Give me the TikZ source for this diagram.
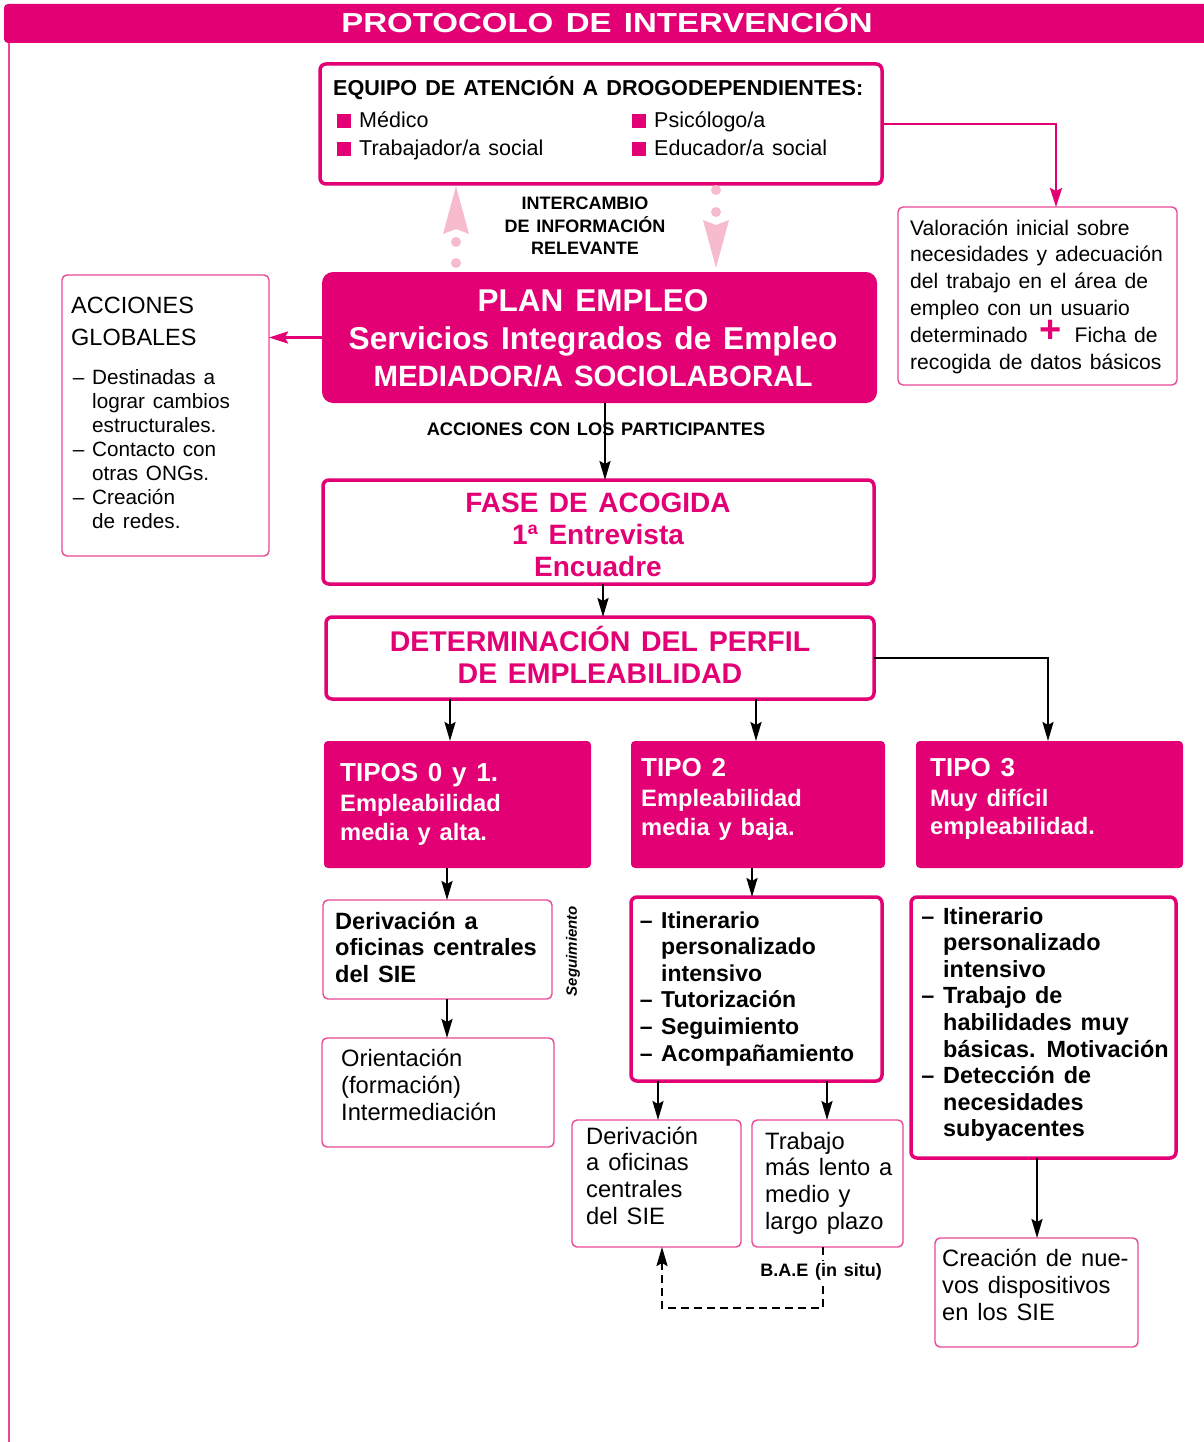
\documentclass[tikz,border=0pt]{standalone}
\usepackage{fontspec}
\setmainfont{Liberation Sans}[WordSpace=1.35]
\usepackage{graphicx}
\usetikzlibrary{arrows.meta}
\definecolor{mag}{RGB}{226,0,116}
\definecolor{pinkline}{RGB}{232,72,150}
\definecolor{lightpink}{RGB}{247,187,206}
\newcommand\fsz[2]{\fontsize{#1}{#2}\selectfont}
\newcommand\bul{\leavevmode\llap{\textcolor{mag}{\rule{14pt}{14pt}}\hspace{8pt}}}
\newcommand\itm{\leavevmode\llap{– }}
\newcommand\lft[2]{\parbox[t]{#1pt}{#2}}
\newcommand\ctr[2]{\parbox[t]{#1pt}{\centering #2}}
\tikzset{
 box/.style 2 args={anchor=north west, inner sep=0pt, outer sep=0pt, minimum width=#1pt, minimum height=#2pt},
 thinbox/.style={draw=pinkline, line width=1.4pt, rounded corners=5pt},
 thickbox/.style={draw=mag, line width=3.5pt, rounded corners=6pt},
 fillbox/.style={fill=mag, rounded corners=4pt},
 txt/.style={anchor=base west, inner sep=0pt},
 ctxt/.style={anchor=base, inner sep=0pt},
 blk/.style={draw=black, line width=2.4pt, -{Stealth[length=19pt,width=11pt,inset=3pt]}},
 magarr/.style={draw=mag, line width=2.4pt, -{Stealth[length=19pt,width=12pt,inset=3pt]}},
 dots/.style={draw=lightpink, line width=10pt, line cap=round, dash pattern=on 0pt off #1pt, -{Stealth[length=48pt,width=26pt,inset=5pt,line width=0pt]}},
}
\begin{document}
\begin{tikzpicture}[x=1pt,y=-1pt]
\useasboundingbox (0,0) rectangle (1203,1442);
% header
\node[fillbox, box={1210}{39}] (hdr) at (4,4) {};
\node[ctxt, text=white] (title) at (607,32.5) {\scalebox{1.2}[1]{\fsz{27.5}{27.5}\bfseries PROTOCOLO DE INTERVENCIÓN}};
\draw[pinkline, line width=2pt] (9,43) -- (9,1442);

% boxes
\node[thickbox, box={562}{120}] (equipo) at (320,64) {};
\node[thinbox, box={279}{178}] (valor) at (898,207) {};
\node[fillbox, rounded corners=11pt, box={555}{131}] (plan) at (322,272) {};
\node[thinbox, box={207}{281}] (acc) at (62,275) {};
\node[thickbox, box={551}{104}] (fase) at (323,480) {};
\node[thickbox, box={548}{82}] (det) at (326,617) {};
\node[fillbox, box={267}{127}] (t01) at (324,741) {};
\node[fillbox, box={254}{127}] (t2) at (631,741) {};
\node[fillbox, box={267}{127}] (t3) at (916,741) {};
\node[thinbox, box={229}{99}] (d1) at (323,900) {};
\node[thinbox, box={232}{109}] (o1) at (322,1038) {};
\node[thickbox, box={251}{184}] (l2) at (631,897) {};
\node[thinbox, box={169}{127}] (d2) at (572,1120) {};
\node[thinbox, box={151}{127}] (tr) at (752,1120) {};
\node[thickbox, box={265}{261}] (l3) at (911,897) {};
\node[thinbox, box={203}{109}] (cr) at (935,1238) {};

% texts
\node[txt] (equipo-t) at (333,96) {\lft{560}{\fsz{21.6}{28}\bfseries EQUIPO DE ATENCIÓN A DROGODEPENDIENTES:}};
\node[txt] (equipo-c1) at (359,128) {\lft{260}{\fsz{21.5}{28}\bul Médico\par\bul Trabajador/a social}};
\node[txt] (equipo-c2) at (654,128) {\lft{220}{\fsz{21.5}{28}\bul Psicólogo/a\par\bul Educador/a social}};
\node[txt] (valor-t) at (910,235) {\lft{275}{\fsz{21.1}{26.8}Valoración inicial sobre\par necesidades y adecuación\par del trabajo en el área de\par empleo con un usuario\par determinado\hspace{12pt}{\color{mag}\fontsize{38}{26.8}\selectfont\bfseries +}\hspace{13pt}Ficha de\par recogida de datos básicos}};
\node[ctxt] (inter) at (585,209.5) {\ctr{300}{\fsz{18}{22.5}\bfseries INTERCAMBIO\par DE INFORMACIÓN\par RELEVANTE}};
\node[ctxt, text=white] (plan-t1) at (593,311) {\fsz{31.5}{31}\bfseries PLAN EMPLEO};
\node[ctxt, text=white] (plan-t2) at (593,349) {\fsz{31.6}{31}\bfseries Servicios Integrados de Empleo};
\node[ctxt, text=white] (plan-t3) at (593,386) {\fsz{29.4}{29}\bfseries MEDIADOR/A SOCIOLABORAL};
\node[txt] (acc-t) at (71,313) {\lft{190}{\fsz{23.5}{32}ACCIONES\par GLOBALES}};
\node[txt] (acc-l) at (92,384) {\lft{170}{\fsz{20.7}{24}\itm Destinadas a\par lograr cambios\par estructurales.\par\itm Contacto con\par otras ONGs.\par\itm Creación\par de redes.}};
\node[ctxt] (accp) at (596,435) {\fsz{18.2}{18}\bfseries ACCIONES CON LOS PARTICIPANTES};
\node[ctxt, text=mag] (fase-t) at (598,512) {\ctr{540}{\fsz{28}{32}\bfseries FASE DE ACOGIDA\par 1ª Entrevista\par Encuadre}};
\node[ctxt, text=mag] (det-t) at (600,651) {\ctr{540}{\fsz{28.5}{32}\bfseries DETERMINACIÓN DEL PERFIL\par DE EMPLEABILIDAD}};
\node[txt, text=white] (t01-h) at (340,781.5) {\fsz{26}{26}\bfseries TIPOS 0 y 1.};
\node[txt, text=white] (t01-s) at (340,811.5) {\lft{240}{\fsz{23.7}{28.5}\bfseries Empleabilidad\par media y alta.}};
\node[txt, text=white] (t2-h) at (641,776.5) {\fsz{26}{26}\bfseries TIPO 2};
\node[txt, text=white] (t2-s) at (641,806.5) {\lft{240}{\fsz{23.7}{29}\bfseries Empleabilidad\par media y baja.}};
\node[txt, text=white] (t3-h) at (930,776.5) {\fsz{26}{26}\bfseries TIPO 3};
\node[txt, text=white] (t3-s) at (930,806.5) {\lft{240}{\fsz{23.7}{28}\bfseries Muy difícil\par empleabilidad.}};
\node[txt] (d1-t) at (335,929) {\lft{220}{\fsz{23.6}{26.5}\bfseries Derivación a\par oficinas centrales\par del SIE}};
\node[rotate=90, inner sep=0pt] (seg) at (573,951) {\fsz{15}{15}\bfseries\itshape Seguimiento};
\node[txt] (o1-t) at (341,1066) {\lft{210}{\fsz{23.7}{27}Orientación\par (formación)\par Intermediación}};
\node[txt] (l2-t) at (661,928) {\lft{230}{\fsz{23}{26.6}\bfseries\itm Itinerario\par personalizado\par intensivo\par\itm Tutorización\par\itm Seguimiento\par\itm Acompañamiento}};
\node[txt] (d2-t) at (586,1144) {\lft{160}{\fsz{23.7}{26.7}Derivación\par a oficinas\par centrales\par del SIE}};
\node[txt] (tr-t) at (765,1149) {\lft{140}{\fsz{23.7}{26.7}Trabajo\par más lento a\par medio y\par largo plazo}};
\node[txt] (l3-t) at (943,924) {\lft{240}{\fsz{23.4}{26.6}\bfseries\itm Itinerario\par personalizado\par intensivo\par\itm Trabajo de\par habilidades muy\par básicas. Motivación\par\itm Detección de\par necesidades\par subyacentes}};
\node[txt] (cr-t) at (942,1266) {\lft{200}{\fsz{23.7}{27}Creación de nue-\par vos dispositivos\par en los SIE}};

% connectors
\draw[magarr] (equipo.east) -| ([xshift=18.5pt]valor.north);
\draw[magarr] (plan.west) -- (acc.east |- plan.west);
\draw[dots=21, shorten <=9pt, shorten >=2pt] ([xshift=-143.5pt]plan.north) -- ([xshift=-143.5pt]plan.north |- equipo.south);
\draw[dots=22, shorten <=6pt, shorten >=4pt] ([xshift=116.5pt]plan.north |- equipo.south) -- ([xshift=116.5pt]plan.north);
\draw[blk] ([xshift=5.5pt]plan.south) -- ([xshift=5.5pt]plan.south |- fase.north);
\draw[blk] ([xshift=4.5pt]fase.south) -- ([xshift=4.5pt]fase.south |- det.north);
\draw[blk] ([xshift=-150pt]det.south) -- ([xshift=-150pt]det.south |- t01.north);
\draw[blk] ([xshift=156pt]det.south) -- ([xshift=156pt]det.south |- t2.north);
\draw[blk] (det.east) -| ([xshift=-1.5pt]t3.north);
\draw[blk] ([xshift=-10.5pt]t01.south) -- ([xshift=-10.5pt]t01.south |- d1.north);
\draw[blk] ([xshift=9.5pt]d1.south) -- ([xshift=9.5pt]d1.south |- o1.north);
\draw[blk] ([xshift=-6pt]t2.south) -- ([xshift=-6pt]t2.south |- l2.north);
\draw[blk] ([xshift=-98.5pt]l2.south) -- ([xshift=-98.5pt]l2.south |- d2.north);
\draw[blk] ([xshift=70.5pt]l2.south) -- ([xshift=70.5pt]l2.south |- tr.north);
\draw[blk] ([xshift=-6.5pt]l3.south) -- ([xshift=-6.5pt]l3.south |- cr.north);
\draw[blk, dash pattern=on 8pt off 5pt] ([xshift=-4.5pt]tr.south) -- ++(0,61) -| ([xshift=5.5pt]d2.south);
\node[ctxt, fill=white, inner sep=2pt] (bae) at (821,1276) {\fsz{18}{18}\bfseries B.A.E (in situ)};
\end{tikzpicture}
\end{document}
